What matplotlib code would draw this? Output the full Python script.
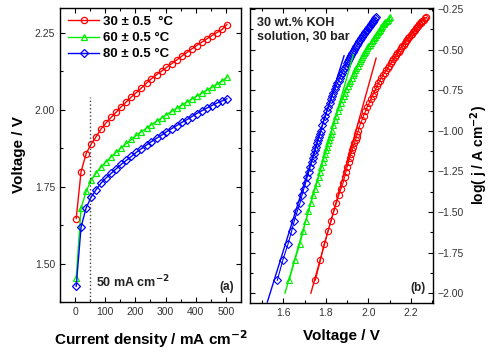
import numpy as np
import matplotlib
matplotlib.use('Agg')
import matplotlib.pyplot as plt
from matplotlib.ticker import MultipleLocator

plt.rcParams['font.family'] = ['Liberation Sans', 'DejaVu Sans']

# left panel: polarisation curves (mA cm-2, V)
j_left = [4, 20, 37, 53, 70, 87, 103, 120, 137, 153, 170, 187, 203, 220, 237, 253,
          270, 287, 303, 320, 337, 353, 370, 387, 403, 420, 437, 453, 470, 487, 503]
v30_left = [1.646, 1.798, 1.857, 1.887, 1.912, 1.938, 1.957, 1.975, 1.992, 2.009, 2.025,
            2.041, 2.055, 2.070, 2.086, 2.100, 2.113, 2.125, 2.137, 2.149, 2.161, 2.173,
            2.185, 2.197, 2.208, 2.219, 2.230, 2.240, 2.250, 2.260, 2.276]
v60_left = [1.454, 1.680, 1.734, 1.770, 1.794, 1.814, 1.830, 1.847, 1.862, 1.876, 1.890,
            1.903, 1.916, 1.928, 1.940, 1.951, 1.962, 1.973, 1.983, 1.994, 2.004, 2.014,
            2.024, 2.034, 2.044, 2.053, 2.063, 2.072, 2.082, 2.092, 2.105]
v80_left = [1.426, 1.618, 1.681, 1.715, 1.740, 1.762, 1.778, 1.793, 1.808, 1.822, 1.835,
            1.848, 1.861, 1.873, 1.885, 1.896, 1.907, 1.917, 1.928, 1.938, 1.948, 1.958,
            1.967, 1.977, 1.987, 1.996, 2.005, 2.013, 2.021, 2.028, 2.035]

# right panel: Tafel plot, dense sampling (mA cm-2, V)
j_right = [12, 16, 20, 24, 28, 32, 36, 40, 44, 48, 52, 56, 60, 64, 68, 72, 76, 80, 84, 88,
           92, 96, 100, 108, 116, 124, 132, 140, 148, 156, 164, 172, 180, 188, 196, 204,
           212, 220, 228, 236, 244, 252, 260, 268, 276, 284, 292, 300, 308, 316, 324, 332,
           340, 348, 356, 364, 372, 380, 388, 396, 404, 412, 420, 428, 436, 444, 452, 460,
           468, 476, 484, 492, 500]
v30_right = [1.751, 1.775, 1.792, 1.810, 1.825, 1.838, 1.850, 1.861, 1.872, 1.882, 1.889,
             1.895, 1.901, 1.907, 1.912, 1.918, 1.924, 1.930, 1.935, 1.940, 1.945, 1.949,
             1.953, 1.960, 1.970, 1.978, 1.987, 1.995, 2.004, 2.012, 2.020, 2.027, 2.034,
             2.041, 2.048, 2.055, 2.062, 2.070, 2.077, 2.085, 2.092, 2.099, 2.106, 2.112,
             2.118, 2.124, 2.131, 2.137, 2.143, 2.148, 2.154, 2.160, 2.166, 2.171, 2.177,
             2.183, 2.189, 2.194, 2.200, 2.205, 2.210, 2.216, 2.221, 2.226, 2.231, 2.236,
             2.241, 2.246, 2.250, 2.255, 2.260, 2.266, 2.274]
v60_right = [1.628, 1.655, 1.678, 1.694, 1.706, 1.718, 1.729, 1.738, 1.749, 1.759, 1.767,
             1.773, 1.779, 1.785, 1.791, 1.797, 1.802, 1.807, 1.811, 1.815, 1.819, 1.823,
             1.827, 1.835, 1.843, 1.850, 1.857, 1.864, 1.871, 1.878, 1.884, 1.891, 1.897,
             1.903, 1.910, 1.916, 1.922, 1.928, 1.933, 1.939, 1.944, 1.950, 1.955, 1.961,
             1.966, 1.971, 1.976, 1.981, 1.986, 1.991, 1.996, 2.001, 2.006, 2.011, 2.016,
             2.020, 2.025, 2.030, 2.035, 2.039, 2.044, 2.049, 2.053, 2.058, 2.062, 2.067,
             2.072, 2.076, 2.081, 2.086, 2.091, 2.096, 2.103]
v80_right = [1.572, 1.598, 1.622, 1.639, 1.652, 1.666, 1.679, 1.688, 1.697, 1.706, 1.713,
             1.720, 1.727, 1.733, 1.739, 1.745, 1.750, 1.755, 1.760, 1.764, 1.768, 1.772,
             1.776, 1.783, 1.790, 1.797, 1.804, 1.811, 1.818, 1.824, 1.830, 1.836, 1.843,
             1.849, 1.855, 1.861, 1.866, 1.872, 1.878, 1.883, 1.889, 1.894, 1.899, 1.904,
             1.909, 1.914, 1.919, 1.924, 1.929, 1.934, 1.939, 1.944, 1.949, 1.954, 1.958,
             1.963, 1.968, 1.972, 1.977, 1.981, 1.986, 1.990, 1.995, 1.999, 2.003, 2.008,
             2.012, 2.016, 2.020, 2.024, 2.028, 2.032, 2.036]

# Tafel fit lines (V, log j)
fit30_v = [1.730, 2.037]
fit30_log = [-2.0, -0.552]
fit60_v = [1.608, 1.930]
fit60_log = [-2.0, -0.531]
fit80_v = [1.525, 1.886]
fit80_log = [-2.055, -0.538]

labels = ['30 ± 0.5  °C', '60 ± 0.5 °C', '80 ± 0.5 °C']
colors = ['#ff0000', '#00ee00', '#0000ff']
markers = ['o', '^', 'D']

fig = plt.figure(figsize=(4.91, 3.53), dpi=100)
ax1 = fig.add_axes([0.122, 0.1445, 0.369, 0.833])
ax2 = fig.add_axes([0.509, 0.142, 0.373, 0.836])

tick_col = '#333333'
for ax in (ax1, ax2):
    ax.tick_params(which='both', direction='in', top=True, right=True,
                   labelsize=7.5, labelcolor=tick_col, width=0.8)
    ax.tick_params(which='major', length=3.5)
    ax.tick_params(which='minor', length=2)
    for s in ax.spines.values():
        s.set_linewidth(1.0)

# panel (a)
lefts = [v30_left, v60_left, v80_left]
for v, c, m, lab in zip(lefts, colors, markers, labels):
    ms = 4.5 if m != 'D' else 3.8
    ax1.plot(j_left, v, color=c, marker=m, ms=ms, mfc='none', mew=0.9, lw=1.0, label=lab)
ax1.plot([50, 50], [1.37, 2.04], color='#444444', ls=':', lw=1.0)
ax1.set_xlim(-50, 550)
ax1.set_ylim(1.375, 2.33)
ax1.xaxis.set_major_locator(MultipleLocator(100))
ax1.xaxis.set_minor_locator(MultipleLocator(50))
ax1.yaxis.set_major_locator(MultipleLocator(0.25))
ax1.yaxis.set_minor_locator(MultipleLocator(0.125))
ax1.set_xlabel('Current density / mA cm$^{\\mathbf{-2}}$', fontsize=11, fontweight='bold',
               labelpad=8)
ax1.set_ylabel('Voltage / V', fontsize=11, fontweight='bold', labelpad=6)
ax1.legend(loc='upper left', frameon=False, prop={'weight': 'bold', 'size': 9.5},
           handlelength=2.4, handletextpad=0.3, labelspacing=0.3, borderaxespad=0.2)
ax1.text(0.2, 0.05, '50 mA cm$^{\\mathbf{-2}}$', transform=ax1.transAxes, fontsize=9,
         fontweight='bold', color='#222222')
ax1.text(0.96, 0.04, '(a)', transform=ax1.transAxes, fontsize=8.5, fontweight='bold',
         ha='right', color='#222222')

# panel (b)
rights = [v30_right, v60_right, v80_right]
for v, c, m in zip(rights, colors, markers):
    ms = 4.5 if m != 'D' else 3.8
    ax2.plot(v, np.log10(np.array(j_right) / 1000.0), color=c, marker=m, ms=ms,
             mfc='none', mew=0.8, lw=0.8)
for fv, fl, c in zip([fit30_v, fit60_v, fit80_v], [fit30_log, fit60_log, fit80_log], colors):
    ax2.plot(fv, fl, color=c, lw=1.0)
ax2.set_xlim(1.443, 2.305)
ax2.set_ylim(-2.06, -0.242)
ax2.xaxis.set_major_locator(MultipleLocator(0.2))
ax2.xaxis.set_minor_locator(MultipleLocator(0.1))
ax2.yaxis.set_major_locator(MultipleLocator(0.25))
ax2.yaxis.set_minor_locator(MultipleLocator(0.125))
ax2.yaxis.tick_right()
ax2.tick_params(which='both', left=True, right=True, labelleft=False, labelright=True)
ax2.yaxis.set_label_position('right')
ax2.set_xlabel('Voltage / V', fontsize=11, fontweight='bold', labelpad=8)
ax2.set_ylabel('log( j / A cm$^{\\mathbf{-2}}$)', fontsize=10, fontweight='bold', labelpad=3)
ax2.text(0.04, 0.97, '30 wt.% KOH\nsolution, 30 bar', transform=ax2.transAxes, fontsize=9,
         fontweight='bold', va='top', linespacing=1.3, color='#222222')
ax2.text(0.96, 0.04, '(b)', transform=ax2.transAxes, fontsize=8.5, fontweight='bold',
         ha='right', color='#222222')

fig.savefig('out.png', dpi=100)
